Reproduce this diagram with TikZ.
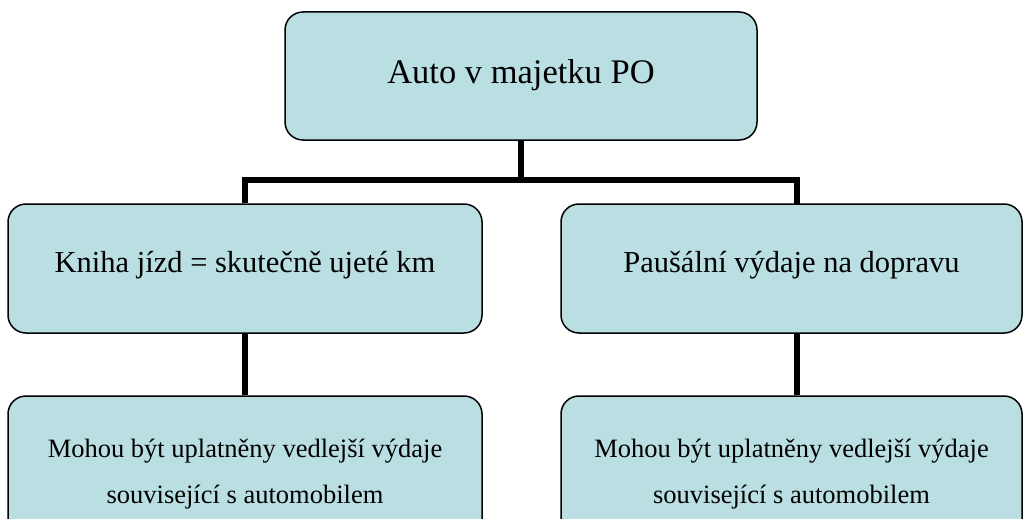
\documentclass[tikz,border=0pt]{standalone}
\usepackage{fontspec}
\setmainfont{Liberation Serif}
\definecolor{boxfill}{RGB}{186,223,226}
\begin{document}
\begin{tikzpicture}[x=1pt,y=-1pt,
	box/.style={draw=black,line width=1.5pt,fill=boxfill,rounded corners=18pt,inner sep=0pt,align=center},
	conn/.style={draw=black,line width=5.5pt}]
\clip (0,0) rectangle (1023,519);
\node[box,minimum width=472pt,minimum height=128pt,text height=23pt,text depth=8pt,font=\fontsize{34.5}{40}\selectfont] (top) at (521,76) {Auto v majetku PO};
\node[box,minimum width=474pt,minimum height=129pt,text height=16pt,text depth=9pt,font=\fontsize{30.5}{36}\selectfont] (lmid) at (245,268.5) {Kniha jízd = skutečně ujeté km};
\node[box,minimum width=461pt,minimum height=129pt,text height=16pt,text depth=9pt,font=\fontsize{30.5}{36}\selectfont] (rmid) at (791.5,268.5) {Paušální výdaje na dopravu};
\node[box,minimum width=474pt,minimum height=156pt,font=\fontsize{26.5}{46}\selectfont] (lbot) at (245,474) {Mohou být uplatněny vedlejší výdaje\\související s automobilem};
\node[box,minimum width=461pt,minimum height=156pt,font=\fontsize{26.5}{46}\selectfont] (rbot) at (791.5,474) {Mohou být uplatněny vedlejší výdaje\\související s automobilem};
\coordinate (bus) at (521,180);
\coordinate (rtap) at (797,204);
\draw[conn] (top.south) -- (bus);
\draw[conn] (lmid.north) |- (bus) -| (rtap);
\draw[conn] (lmid.south) -- (lbot.north);
\draw[conn] (rmid.south -| rtap) -- (rbot.north -| rtap);
\end{tikzpicture}
\end{document}
